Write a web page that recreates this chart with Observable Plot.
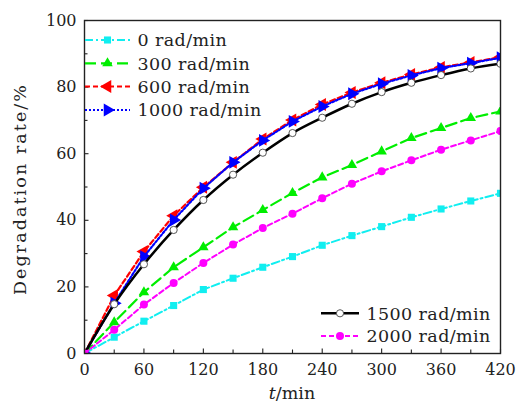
<!DOCTYPE html>
<html>
<head>
<meta charset="utf-8">
<script src="https://cdn.jsdelivr.net/npm/d3@7"></script>
<script src="https://cdn.jsdelivr.net/npm/@observablehq/plot@0.6"></script>
<style>
  html, body { margin: 0; padding: 0; background: #fff; }
  #wrap { position: relative; width: 516px; height: 405px; }
  #wrap svg.overlay { position: absolute; left: 0; top: 0; pointer-events: none; }
</style>
</head>
<body>
<div id="wrap"></div>
<script>
// ---- data ----
const times = [0, 30, 60, 90, 120, 150, 180, 210, 240, 270, 300, 330, 360, 390, 420];
const rate0    = [0, 4.9, 9.7, 14.4, 19.2, 22.6, 25.9, 29.1, 32.5, 35.4, 38.1, 40.9, 43.4, 45.8, 48.1];
const rate300  = [0, 9.4, 18.4, 25.9, 31.9, 37.9, 43.1, 48.2, 52.9, 56.6, 60.7, 64.7, 67.7, 70.7, 72.7];
const rate600  = [0, 17.4, 30.6, 41.4, 49.9, 57.4, 64.4, 70.1, 74.8, 78.4, 81.3, 83.8, 85.9, 87.4, 89.0];
const rate1000 = [0, 15.1, 29.1, 40.1, 49.6, 57.4, 64.0, 69.7, 74.2, 78.0, 81.0, 83.5, 85.7, 87.2, 88.8];
const rate1500 = [0, 14.8, 26.8, 37.1, 46.1, 53.7, 60.3, 66.2, 70.8, 75.0, 78.5, 81.3, 83.6, 85.6, 87.0];
const rate2000 = [0, 7.1, 14.7, 21.2, 27.2, 32.7, 37.7, 42.0, 46.6, 51.0, 54.7, 58.0, 61.2, 64.0, 66.8];
const seriesLabels = ["0 rad/min", "300 rad/min", "600 rad/min", "1000 rad/min", "1500 rad/min", "2000 rad/min"];
const xTicks = [0, 60, 120, 180, 240, 300, 360, 420];
const xMinor = [30, 90, 150, 210, 270, 330, 390];
const yTicks = [0, 20, 40, 60, 80, 100];
const yMinor = [10, 30, 50, 70, 90];
const xLabelVar = "t";
const xLabelUnit = "/min";
const yLabel = "Degradation rate/%";

// ---- styles ----
const FONT = "DejaVu Serif";
const styles = [
  {color: "#11eef0", dash: "8,3,2,3", width: 2, symbol: "square", r: 4, rotate: 0, fill: "#11eef0", stroke: "none", curve: "linear"},
  {color: "#00ee00", dash: "11,5", width: 2.2, symbol: "triangle", r: 3.9, rotate: 0, fill: "#00ee00", stroke: "none", curve: "linear"},
  {color: "#ff0000", dash: "5,3", width: 2.2, symbol: "triangle", r: 4.8, rotate: -90, fill: "#ff0000", stroke: "none", curve: "linear"},
  {color: "#0000ff", dash: "2,2", width: 2.2, symbol: "triangle", r: 4.8, rotate: 90, fill: "#0000ff", stroke: "none", curve: "linear"},
  {color: "#000000", dash: null, width: 2.5, symbol: "circle", r: 3.6, rotate: 0, fill: "#ffffff", stroke: "#444", curve: "catmull-rom"},
  {color: "#ff00ff", dash: "5,3", width: 2, symbol: "circle", r: 4, rotate: 0, fill: "#ff00ff", stroke: "none", curve: "linear"}
];
const allRates = [rate0, rate300, rate600, rate1000, rate1500, rate2000];
const seriesData = allRates.map(vals => times.map((t, i) => ({t, v: vals[i]})));

const W = 516, H = 405;
const mL = 84, mR = 16, mT = 20, mB = 52;
const frameW = W - mL - mR, frameH = H - mT - mB;
const ink = "#222";

const marks = [];
seriesData.forEach((d, i) => {
  const s = styles[i];
  marks.push(Plot.line(d, {x: "t", y: "v", stroke: s.color, strokeWidth: s.width,
    strokeDasharray: s.dash, curve: s.curve, clip: true}));
  marks.push(Plot.dot(d, {x: "t", y: "v", symbol: s.symbol, r: s.r, rotate: s.rotate,
    fill: s.fill, stroke: s.stroke, strokeWidth: 0.9, clip: true}));
});

const plot = Plot.plot({
  width: W, height: H,
  marginLeft: mL, marginRight: mR, marginTop: mT, marginBottom: mB,
  style: {fontFamily: FONT, fontSize: "16px", color: ink, background: "white"},
  x: {domain: [0, 420]},
  y: {domain: [0, 100]},
  marks: [
    Plot.axisX({ticks: xTicks, tickSize: 0, tickPadding: 10, label: null, tickFormat: d => String(d), fontSize: 16}),
    Plot.axisY({ticks: yTicks, tickSize: 0, tickPadding: 8, label: null, tickFormat: d => String(d), fontSize: 16}),
    Plot.tickX(xTicks, {x: d => d, stroke: ink, strokeWidth: 1.1, insetTop: frameH - 4.5}),
    Plot.tickX(xMinor, {x: d => d, stroke: ink, strokeWidth: 1.1, insetTop: frameH - 3.5}),
    Plot.tickY(yTicks, {y: d => d, stroke: ink, strokeWidth: 1.1, insetRight: frameW - 4.5}),
    Plot.tickY(yMinor, {y: d => d, stroke: ink, strokeWidth: 1.1, insetRight: frameW - 3.5}),
    ...marks,
    Plot.frame({stroke: ink, strokeWidth: 1.4})
  ]
});
const wrap = document.getElementById("wrap");
wrap.appendChild(plot);

// ---- overlay: legend and axis titles ----
const ov = d3.select(wrap).append("svg").attr("class", "overlay")
  .attr("width", W).attr("height", H)
  .style("font-family", FONT).style("fill", ink);

function legendItem(i, x1, x2, y, tx) {
  const s = styles[i];
  const g = ov.append("g");
  g.append("line").attr("x1", x1).attr("x2", x2).attr("y1", y).attr("y2", y)
    .attr("stroke", s.color).attr("stroke-width", s.width)
    .attr("stroke-dasharray", s.dash);
  const symType = {square: d3.symbolSquare, triangle: d3.symbolTriangle, circle: d3.symbolCircle}[s.symbol];
  g.append("path").attr("d", d3.symbol(symType, Math.PI * s.r * s.r)())
    .attr("transform", `translate(${(x1 + x2) / 2},${y}) rotate(${s.rotate})`)
    .attr("fill", s.fill).attr("stroke", s.stroke).attr("stroke-width", 0.9);
  g.append("text").attr("x", tx).attr("y", y + 6.2).text(seriesLabels[i])
    .style("font-family", FONT)
    .style("font-size", "17.5px").style("letter-spacing", "0.4px").attr("fill", ink);
}
[40, 63.3, 86.5, 110].forEach((y, i) => legendItem(i, 85, 130, y, 137.5));
[313.3, 336].forEach((y, j) => legendItem(4 + j, 321, 359, y, 366.5));

ov.append("text").attr("transform", "translate(26,190) rotate(-90)")
  .attr("text-anchor", "middle").style("font-size", "17.5px").style("font-family", FONT)
  .attr("textLength", 210).attr("lengthAdjust", "spacing")
  .attr("fill", ink).text(yLabel);

const xl = ov.append("text").attr("x", 292).attr("y", 399).attr("text-anchor", "middle")
  .style("font-size", "17.5px").style("font-family", FONT).attr("fill", ink);
xl.append("tspan").style("font-style", "italic").text(xLabelVar);
xl.append("tspan").text(xLabelUnit);
</script>
</body>
</html>
